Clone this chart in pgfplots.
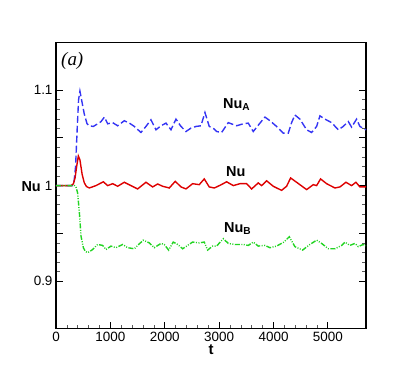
\documentclass[border=0pt]{standalone}
\usepackage{fontspec}
\setmainfont{Liberation Sans}
\newfontfamily\serifit{Liberation Serif}
\usepackage{pgfplots}
\pgfplotsset{compat=1.18}
\definecolor{nublue}{HTML}{3434F4}
\definecolor{nured}{HTML}{DD0000}
\definecolor{nugreen}{HTML}{22D422}

\begin{document}
\begin{tikzpicture}
\begin{axis}[
    scale only axis,
    width=310bp, height=286.2bp,
    xmin=0, xmax=5700,
    ymin=0.85, ymax=1.15,
    axis line style={line width=1.3pt},
    tick align=inside,
    xtick pos=bottom, ytick pos=both,
    xtick={0,1000,2000,3000,4000,5000},
    minor x tick num=4,
    ytick={0.9,0.95,1,1.05,1.1},
    yticklabels={0.9,,1,,1.1},
    minor y tick num=4,
    major tick length=7bp, minor tick length=4bp,
    every tick/.style={black, line width=0.9pt},
    minor tick style={line width=0.6pt, gray!70!black},
    tick label style={font=\fontsize{13.5}{15}\selectfont},
    /pgf/number format/assume math mode=true,
    /pgf/number format/1000 sep={},
    yticklabel style={/pgf/number format/fixed},
    xlabel={t},
    ylabel={Nu},
    every axis x label/.style={at={(rel axis cs:0.5,-0.074)}, anchor=center,
        font=\bfseries\fontsize{15}{16}\selectfont},
    every axis y label/.style={at={(rel axis cs:-0.08,0.498)}, anchor=center, rotate=0,
        font=\bfseries\fontsize{14.5}{16}\selectfont},
    clip=false,
]
% Nu_A
\addplot[nublue, line width=1.4pt, dash pattern=on 7pt off 3pt] coordinates {
(0,1) (300,1) (330,1.003) (360,1.02) (390,1.06) (415,1.09) (440,1.099) (470,1.09)
(520,1.075) (570,1.065) (613,1.0627) (686,1.062) (735,1.0637) (827,1.067) (890,1.0718)
(950,1.0648) (1042,1.066) (1134,1.0627) (1256,1.068) (1348,1.0655) (1440,1.062)
(1562,1.0557) (1654,1.062) (1746,1.069) (1838,1.0585) (1930,1.0627) (2022,1.0655)
(2114,1.0585) (2206,1.0697) (2298,1.062) (2390,1.0567) (2482,1.0603) (2574,1.062)
(2665,1.0627) (2739,1.0766) (2818,1.062) (2910,1.0593) (2953,1.0567) (3045,1.0557)
(3168,1.066) (3321,1.0627) (3443,1.0648) (3535,1.0655) (3627,1.0567) (3750,1.0655)
(3842,1.0718) (3934,1.068) (4056,1.062) (4179,1.055) (4271,1.055) (4332,1.066)
(4393,1.074) (4485,1.0697) (4608,1.0585) (4700,1.0557) (4792,1.062) (4853,1.0731)
(4945,1.0697) (5068,1.066) (5190,1.0585) (5282,1.062) (5374,1.0672) (5435,1.0613)
(5527,1.0697) (5588,1.062) (5700,1.0585)
};
% Nu
\addplot[nured, line width=1.4pt] coordinates {
(0,1) (280,1) (320,1.002) (350,1.008) (380,1.02) (411,1.031) (440,1.027) (480,1.012)
(520,1.003) (560,0.999) (613,0.9975) (735,1.0) (870,1.004) (950,1.0) (1042,1.002)
(1134,0.9993) (1256,1.0035) (1379,1.0) (1501,0.9965) (1654,1.0035) (1777,0.9986)
(1869,1.0017) (1961,0.9993) (2083,0.9975) (2193,1.0045) (2298,0.9986) (2390,0.9965)
(2512,1.002) (2634,1.001) (2726,1.007) (2818,0.9986) (2910,0.9975) (2953,0.9986)
(3040,1.001) (3137,1.004) (3260,1.0) (3382,1.002) (3505,1.002) (3597,0.9965) (3719,1.0028)
(3781,1.0) (3873,1.005) (3995,0.9993) (4148,0.995) (4240,0.9993) (4314,1.008)
(4424,1.0035) (4608,0.9958) (4730,1.001) (4792,1.0) (4865,1.007) (4976,1.002)
(5129,0.9975) (5221,0.9986) (5331,1.0035) (5435,1.0) (5515,1.0035) (5588,0.9986)
(5700,0.9986)
};
% Nu_B
\addplot[nugreen, line width=1.4pt, dash pattern=on 5pt off 1.5pt on 1pt off 1.5pt on 1pt off 1.5pt] coordinates {
(0,1) (340,1) (370,0.998) (398,0.9923) (430,0.9715) (460,0.947) (503,0.9349)
(540,0.931) (582,0.9297) (620,0.931) (674,0.933) (766,0.9383) (858,0.9373) (919,0.933)
(1011,0.9366) (1103,0.9349) (1226,0.9383) (1317,0.9349) (1440,0.9338) (1501,0.9373)
(1605,0.9428) (1715,0.94) (1807,0.9349) (1930,0.9394) (1991,0.9383) (2071,0.9324)
(2156,0.9408) (2237,0.9383) (2329,0.9338) (2420,0.9373) (2512,0.9408) (2634,0.94)
(2726,0.9408) (2788,0.9324) (2880,0.9366) (2953,0.9366) (3076,0.9443) (3168,0.9394)
(3290,0.9383) (3443,0.9383) (3535,0.9373) (3627,0.9408) (3719,0.9366) (3842,0.9373)
(3934,0.9349) (4056,0.9366) (4191,0.9408) (4289,0.9464) (4393,0.936) (4534,0.9324)
(4669,0.9383) (4792,0.9428) (4884,0.9394) (5006,0.9338) (5129,0.9338) (5252,0.9373)
(5313,0.9408) (5404,0.9373) (5496,0.9394) (5557,0.936) (5649,0.9383) (5700,0.937)
};
\node[anchor=base west, inner sep=0pt, font=\serifit\itshape\fontsize{19}{20}\selectfont] at (axis cs:92,1.1264) {(a)};
\node[anchor=base west, inner sep=0pt, font=\bfseries\fontsize{14.5}{16}\selectfont] at (axis cs:3070,1.0805) {Nu\textsubscript{A}};
\node[anchor=base west, inner sep=0pt, font=\bfseries\fontsize{14.5}{16}\selectfont] at (axis cs:3125,1.0091) {Nu};
\node[anchor=base west, inner sep=0pt, font=\bfseries\fontsize{14.5}{16}\selectfont] at (axis cs:3088,0.9512) {Nu\textsubscript{B}};
\end{axis}
\path ([xshift=-56bp,yshift=-41.3bp]current axis.south west) rectangle ([xshift=49bp,yshift=42.5bp]current axis.north east);
\end{tikzpicture}
\end{document}
